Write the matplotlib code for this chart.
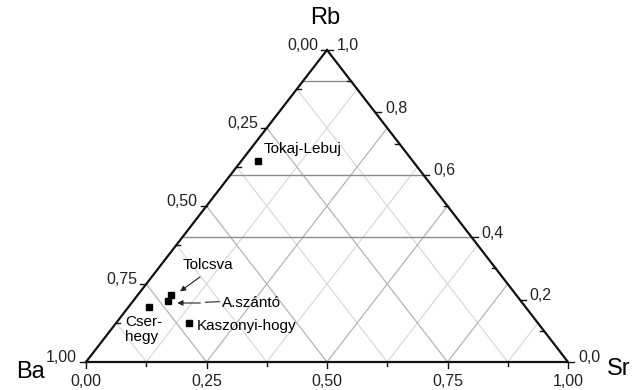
import matplotlib
matplotlib.use("Agg")
import matplotlib.pyplot as plt
from matplotlib.transforms import offset_copy

plt.rcParams['font.family'] = ['Liberation Sans', 'DejaVu Sans']

# ---- data ----
samples = ["Tokaj-Lebuj", "Tolcsva", "A.szántó", "Cser-hegy", "Kaszonyi-hogy"]
ba = [0.320, 0.716, 0.731, 0.781, 0.723]
sr = [0.035, 0.069, 0.0725, 0.044, 0.151]
rb = [0.645, 0.215, 0.1965, 0.175, 0.126]

left_ticks = [0.0, 0.25, 0.5, 0.75, 1.0]          # Ba axis
left_labels = ["0,00", "0,25", "0,50", "0,75", "1,00"]
right_ticks = [0.0, 0.2, 0.4, 0.6, 0.8, 1.0]      # Rb axis
right_labels = ["0,0", "0,2", "0,4", "0,6", "0,8", "1,0"]
bottom_ticks = [0.0, 0.25, 0.5, 0.75, 1.0]        # Sr axis
bottom_labels = ["0,00", "0,25", "0,50", "0,75", "1,00"]
grid_major = [0.25, 0.5, 0.75]
grid_minor = [0.125, 0.375, 0.625, 0.875]
rb_lines = [0.4, 0.6, 0.9]


def tern(b, s, r):
    t = b + s + r
    s, r = s / t, r / t
    return s + r / 2.0, r


W, H = 639, 390
fig = plt.figure(figsize=(W / 100, H / 100), dpi=100)
ax = fig.add_axes([86 / W, 28 / H, 482 / W, 312 / H])
ax.set_xlim(0, 1)
ax.set_ylim(0, 1)
ax.axis('off')


def off(dx, dy):
    return offset_copy(ax.transData, fig=fig, x=dx, y=dy, units='dots')


def seg(p, q, **kw):
    ax.plot([p[0], q[0]], [p[1], q[1]], clip_on=False, **kw)


# grid lines (constant Sr and constant Ba)
for levels, col in ((grid_minor, '#dadada'), (grid_major, '#b4b4b4')):
    for v in levels:
        seg(tern(1 - v, v, 0), tern(0, v, 1 - v), color=col, lw=0.9, zorder=1)
        seg(tern(v, 1 - v, 0), tern(v, 0, 1 - v), color=col, lw=0.9, zorder=1)
for r in rb_lines:
    seg(tern(1 - r, 0, r), tern(0, 1 - r, r), color='#8c8c8c', lw=1.0, zorder=1)

# triangle
A, B, C = tern(1, 0, 0), tern(0, 1, 0), tern(0, 0, 1)
ax.plot([A[0], B[0], C[0], A[0]], [A[1], B[1], C[1], A[1]], color='#111111',
        lw=1.6, zorder=3, clip_on=False, solid_joinstyle='miter')

px = 1 / 482.0
py = 1 / 312.0
# left axis ticks (Ba)
for i in range(9):
    b = i / 8
    x, y = tern(b, 0, 1 - b)
    if i % 2 == 0:
        seg((x - 6 * px, y), (x, y), color='#111111', lw=1.0, zorder=3)
    else:
        seg((x, y), (x + 4 * px, y), color='#111111', lw=1.0, zorder=3)
# right axis ticks (Rb)
for i in range(11):
    r = i / 10
    x, y = tern(0, 1 - r, r)
    if i % 2 == 0:
        seg((x, y), (x + 6 * px, y), color='#111111', lw=1.0, zorder=3)
    else:
        seg((x - 4 * px, y), (x, y), color='#111111', lw=1.0, zorder=3)
# bottom ticks (Sr)
for i in range(9):
    s = i / 8
    x, y = tern(1 - s, s, 0)
    L = 6 if i % 2 == 0 else 4
    seg((x, y), (x, y - L * py), color='#111111', lw=1.0, zorder=3)

fs_tick = 11.5
for v, lab in zip(left_ticks, left_labels):
    x, y = tern(v, 0, 1 - v)
    ax.text(x, y, lab, transform=off(-9, 4), ha='right', va='center',
            fontsize=fs_tick, color='#222222')
for v, lab in zip(right_ticks, right_labels):
    x, y = tern(0, 1 - v, v)
    ax.text(x, y, lab, transform=off(10, 4), ha='left', va='center',
            fontsize=fs_tick, color='#222222')
for v, lab in zip(bottom_ticks, bottom_labels):
    x, y = tern(1 - v, v, 0)
    ax.text(x, y, lab, transform=off(0, -19), ha='center', va='center',
            fontsize=fs_tick, color='#222222')

# axis titles
ax.text(*C, "Rb", transform=off(-2, 32), ha='center', va='center', fontsize=17)
ax.text(*A, "Ba", transform=off(-55, -10), ha='center', va='center', fontsize=17)
ax.text(*B, "Sr", transform=off(51, -7), ha='center', va='center', fontsize=17)

# data points
pts = [tern(b, s, r) for b, s, r in zip(ba, sr, rb)]
ax.plot([p[0] for p in pts], [p[1] for p in pts], 's', color='black',
        markersize=4.6, zorder=5, clip_on=False, linestyle='none')

fs_lab = 11
P = dict(zip(samples, pts))
ax.text(*P["Tokaj-Lebuj"], "Tokaj-Lebuj", transform=off(5, 12), ha='left',
        va='center', fontsize=fs_lab)
ax.text(*P["Tolcsva"], "Tolcsva", transform=off(37, 30), ha='center',
        va='center', fontsize=fs_lab)
ax.text(*P["A.szántó"], "A.szántó", transform=off(54, -2.5), ha='left',
        va='center', fontsize=fs_lab)
ax.text(*P["Cser-hegy"], "Cser-\nhegy", transform=off(-24, -22), ha='left',
        va='center', fontsize=fs_lab, linespacing=1.1)
ax.text(*P["Kaszonyi-hogy"], "Kaszonyi-hogy", transform=off(8, -3.5),
        ha='left', va='center', fontsize=fs_lab)

# arrows
def arrow(pt, d0, d1):
    x, y = pt
    ax.annotate("", xy=(x, y), xycoords=off(*d1), xytext=(x, y),
                textcoords=off(*d0),
                arrowprops=dict(arrowstyle='-|>', color='#222222', lw=0.8,
                                mutation_scale=8, shrinkA=0, shrinkB=0))

arrow(P["Tolcsva"], (29, 18), (9, 3.5))
arrow(P["A.szántó"], (32, -2.3), (9, -2.3))
x, y = P["A.szántó"]
ax.annotate("", xy=(x, y), xycoords=off(51, -1.0), xytext=(x, y),
            textcoords=off(37, -1.6),
            arrowprops=dict(arrowstyle='-', color='#222222', lw=0.8,
                            shrinkA=0, shrinkB=0))

fig.savefig("out.png", dpi=100)
